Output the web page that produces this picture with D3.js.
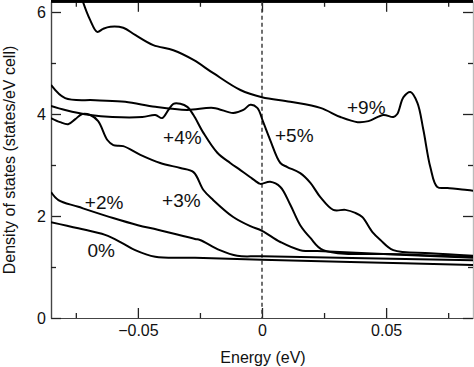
<!DOCTYPE html>
<html>
<head>
<meta charset="utf-8">
<script src="https://cdn.jsdelivr.net/npm/d3@7"></script>
<style>
  body { margin: 0; background: #fff; }
  svg { display: block; font-family: "Liberation Sans", Arial, sans-serif; }
</style>
</head>
<body>
<div id="chart"></div>
<script>
// density of states curves, [energy (eV), DOS (states/eV cell)]
const dos0 = [[-0.085,1.88],[-0.074,1.76],[-0.0632,1.63],[-0.0563,1.47],[-0.0511,1.33],
  [-0.043,1.2],[-0.027,1.18],[0,1.14],[0.0356,1.1],[0.0855,1.04]]

const dos2 = [[-0.085,2.47],[-0.082,2.31],[-0.074,2.18],[-0.06,1.96],[-0.05,1.82],[-0.042,1.73],
  [-0.027,1.55],[-0.025,1.53],[-0.017,1.33],[-0.01,1.22],[0,1.21],[0.0855,1.13]]

const dos3 = [[-0.085,3.92],[-0.0813,3.84],[-0.0781,3.8],[-0.0752,3.9],[-0.0724,4.0],[-0.0692,3.98],
  [-0.066,3.86],[-0.0623,3.49],[-0.0599,3.39],[-0.0559,3.37],[-0.049,3.2],[-0.041,3.04],
  [-0.0329,2.94],[-0.0276,2.86],[-0.0236,2.51],[-0.0196,2.31],[-0.0116,1.98],[-0.0047,1.8],
  [0,1.71],[0.0074,1.49],[0.0154,1.33],[0.0247,1.31],[0.0557,1.24],[0.0855,1.18]]

const dos4 = [[-0.085,4.16],[-0.0793,4.08],[-0.0692,3.98],[-0.0603,3.94],[-0.0482,3.94],
  [-0.043,3.98],[-0.0402,3.92],[-0.0377,4.08],[-0.0357,4.2],[-0.0329,4.2],[-0.0301,4.14],
  [-0.0276,3.98],[-0.0236,3.63],[-0.018,3.24],[-0.0128,3.04],[-0.0087,2.9],[-0.0047,2.76],
  [-0.0027,2.69],[-0.0007,2.63],[0.0033,2.67],[0.0074,2.57],[0.0114,2.22],[0.0154,1.82],
  [0.0195,1.57],[0.0247,1.33],[0.0557,1.25],[0.0855,1.2]]

const dos5 = [[-0.085,4.57],[-0.0793,4.31],[-0.0672,4.27],[-0.0551,4.24],[-0.043,4.14],
  [-0.0301,4.08],[-0.0196,4.12],[-0.0116,4.02],[-0.0075,4.08],[-0.0047,4.18],[-0.0019,4.12],
  [0.0005,3.84],[0.0033,3.49],[0.0074,3.04],[0.0102,2.96],[0.0154,2.84],[0.0195,2.65],
  [0.0235,2.37],[0.0287,2.12],[0.0336,2.12],[0.0376,2.06],[0.0404,1.98],[0.0444,1.69],
  [0.0477,1.53],[0.0529,1.33],[0.0678,1.27],[0.0855,1.22]]

const dos9 = [[-0.0745,6.6],[-0.0724,6.24],[-0.0692,5.84],[-0.0664,5.61],[-0.064,5.67],
  [-0.0611,5.71],[-0.0559,5.69],[-0.0511,5.55],[-0.0438,5.35],[-0.0357,5.25],[-0.0276,5.06],
  [-0.0196,4.8],[-0.0087,4.47],[0,4.33],[0.0114,4.24],[0.0235,4.12],[0.0316,3.94],
  [0.0385,3.84],[0.0429,3.86],[0.0489,3.98],[0.0529,3.94],[0.0545,4.0],[0.057,4.33],
  [0.0598,4.43],[0.0626,4.22],[0.065,3.69],[0.0678,2.96],[0.0706,2.57],[0.0747,2.55],
  [0.0827,2.51],[0.0855,2.49]]

const seriesNames = ["0%", "+2%", "+3%", "+4%", "+5%", "+9%"]
const seriesData = [dos0, dos2, dos3, dos4, dos5, dos9]
// where each strain label sits, in data coordinates
const labelPos = [[-0.0648,1.33],[-0.0636,2.27],[-0.0325,2.31],[-0.0321,3.55],[0.013,3.59],[0.042,4.14]]

const xMajor = [-0.05, 0, 0.05]
const xMinor = [-0.075, -0.025, 0.025, 0.075]
const yMajor = [0, 2, 4, 6]
const yMinor = [1, 3, 5]

const width = 474, height = 367
const mLeft = 51, mRight = 473, mTop = 1.8, mBottom = 318

const x = d3.scaleLinear().domain([-0.085, 0.085]).range([mLeft, mRight])
const y = d3.scaleLinear().domain([0, 6.2]).range([mBottom, mTop])

const svg = d3.select("#chart").append("svg")
  .attr("width", width)
  .attr("height", height)

svg.append("clipPath").attr("id", "plot-clip")
  .append("rect")
  .attr("x", mLeft).attr("y", mTop)
  .attr("width", mRight - mLeft).attr("height", mBottom - mTop)

const fmtX = d => d === 0 ? "0" : d3.format(".2f")(d).replace("-", "\u2013")

// axes, ticks pointing inward
const axisStyle = g => {
  g.select(".domain").attr("stroke", "#444").attr("stroke-width", 1.2)
  g.selectAll(".tick line").attr("stroke", "#222").attr("stroke-width", 1.3)
  g.selectAll("text").attr("fill", "#111").attr("font-size", 16)
}

svg.append("g").attr("transform", `translate(0,${mBottom})`)
  .call(d3.axisBottom(x).tickValues(xMajor).tickFormat(fmtX).tickSizeInner(-10).tickSizeOuter(0).tickPadding(7))
  .call(axisStyle)
svg.append("g").attr("transform", `translate(0,${mBottom})`)
  .call(d3.axisBottom(x).tickValues(xMinor).tickFormat("").tickSizeInner(-5).tickSizeOuter(0))
  .call(axisStyle)
svg.append("g").attr("transform", `translate(0,${mTop})`)
  .call(d3.axisTop(x).tickValues(xMajor).tickFormat("").tickSizeInner(-10).tickSizeOuter(0))
  .call(axisStyle)
svg.append("g").attr("transform", `translate(0,${mTop})`)
  .call(d3.axisTop(x).tickValues(xMinor).tickFormat("").tickSizeInner(-5).tickSizeOuter(0))
  .call(axisStyle)

svg.append("g").attr("transform", `translate(${mLeft},0)`)
  .call(d3.axisLeft(y).tickValues(yMajor).tickFormat(d3.format("d")).tickSizeInner(-10).tickSizeOuter(0).tickPadding(5))
  .call(axisStyle)
svg.append("g").attr("transform", `translate(${mLeft},0)`)
  .call(d3.axisLeft(y).tickValues(yMinor).tickFormat("").tickSizeInner(-5).tickSizeOuter(0))
  .call(axisStyle)
svg.append("g").attr("transform", `translate(${mRight},0)`)
  .call(d3.axisRight(y).tickValues(yMajor).tickFormat("").tickSizeInner(-10).tickSizeOuter(0))
  .call(axisStyle)
  .call(g => g.select(".domain").attr("stroke", "#bbb"))
svg.append("g").attr("transform", `translate(${mRight},0)`)
  .call(d3.axisRight(y).tickValues(yMinor).tickFormat("").tickSizeInner(-5).tickSizeOuter(0))
  .call(axisStyle)
  .call(g => g.select(".domain").attr("stroke", "#bbb"))

// thick top frame line
svg.append("line")
  .attr("x1", mLeft).attr("x2", mRight)
  .attr("y1", 1.2).attr("y2", 1.2)
  .attr("stroke", "#000").attr("stroke-width", 3)

// Fermi level
svg.append("line")
  .attr("x1", x(0)).attr("x2", x(0))
  .attr("y1", mTop).attr("y2", mBottom)
  .attr("stroke", "#333").attr("stroke-width", 1.4)
  .attr("stroke-dasharray", "4,3")

const line = d3.line()
  .x(d => x(d[0]))
  .y(d => y(d[1]))
  .curve(d3.curveCatmullRom.alpha(0.5))

svg.append("g").attr("clip-path", "url(#plot-clip)")
  .selectAll("path")
  .data(seriesData)
  .join("path")
  .attr("d", line)
  .attr("fill", "none")
  .attr("stroke", "#000")
  .attr("stroke-width", 2)
  .attr("stroke-linejoin", "round")

svg.append("g")
  .selectAll("text")
  .data(seriesNames)
  .join("text")
  .attr("x", (d, i) => x(labelPos[i][0]))
  .attr("y", (d, i) => y(labelPos[i][1]))
  .attr("dy", "0.36em")
  .attr("text-anchor", "middle")
  .attr("font-size", 19)
  .attr("fill", "#111")
  .text(d => d)

svg.append("text")
  .attr("x", (mLeft + mRight) / 2 + 1)
  .attr("y", 363)
  .attr("text-anchor", "middle")
  .attr("font-size", 16)
  .attr("fill", "#111")
  .text("Energy (eV)")

svg.append("text")
  .attr("transform", "translate(15,160) rotate(-90)")
  .attr("text-anchor", "middle")
  .attr("font-size", 16)
  .attr("fill", "#111")
  .text("Density of states (states/eV cell)")
</script>
</body>
</html>
